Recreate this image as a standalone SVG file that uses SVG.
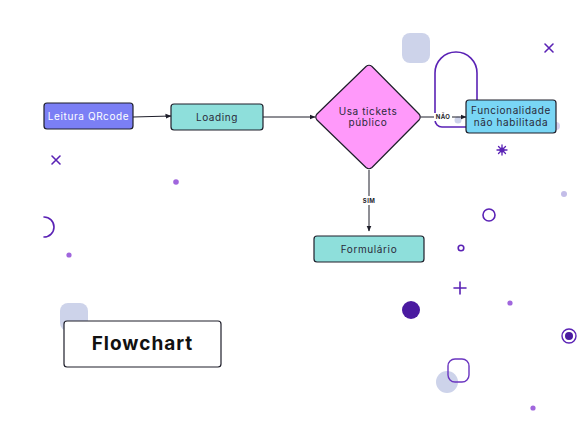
<svg xmlns="http://www.w3.org/2000/svg" width="577" height="433" viewBox="0 0 577 433">
<defs>
<style>
.txt{font-family:"Inter","Liberation Sans",sans-serif;font-size:10px;fill:#2a2a3a;letter-spacing:0.6px;text-anchor:middle}
.node{stroke:#1e1e2a;stroke-width:1.2}
.conn{stroke:#1e1e2a;stroke-width:1;fill:none}
.lbl{font-family:"Inter","Liberation Sans",sans-serif;font-size:6px;font-weight:700;fill:#1e1e2a;text-anchor:middle;letter-spacing:0.4px}
.deco{stroke:#5a22b5;stroke-width:1.6;fill:none;stroke-linecap:round}
.dot{fill:#a066dd}
.lav{fill:#cdd3ea}
</style>
<marker id="ah" viewBox="0 0 6 6" refX="5.5" refY="3" markerWidth="6" markerHeight="6" orient="auto">
<path d="M0,0.5 L6,3 L0,5.5 z" fill="#1e1e2a"/>
</marker>
</defs>
<rect width="577" height="433" fill="#ffffff"/>
<g id="decorations">
<rect class="lav" x="402" y="33" width="28" height="30" rx="8"/>
<rect class="lav" x="60" y="303" width="28" height="28" rx="8"/>
<circle class="lav" cx="447" cy="382" r="11"/>
<circle cx="458" cy="120" r="3.5" fill="#cdd3ea"/>
<circle cx="556" cy="126" r="4" fill="#d8d3f0"/>
<path class="deco" d="M435,120 V73 A21,21 0 0 1 477,73 V110"/>
<path class="deco" d="M435,120 A7,7 0 0 0 442,127 H466"/>
<path class="deco" d="M545,44 L553,52 M553,44 L545,52"/>
<path class="deco" d="M52,156 L60,164 M60,156 L52,164"/>
<path class="deco" d="M44,217 A10,10 0 0 1 44,237"/>
<circle class="dot" cx="176" cy="182" r="2.8"/>
<circle class="dot" cx="69" cy="255" r="2.6"/>
<g stroke="#5a22b5" stroke-width="1.3" stroke-linecap="round">
<path d="M502,145 V155 M497,150 H507 M498.5,146.5 L505.5,153.5 M505.5,146.5 L498.5,153.5"/>
</g>
<circle cx="502" cy="150" r="2.5" fill="#5a22b5"/>
<circle cx="564" cy="194" r="3" fill="#c3bde8"/>
<circle class="deco" cx="489" cy="215" r="6"/>
<circle class="deco" cx="461" cy="248" r="2.8" stroke-width="1.4"/>
<path class="deco" d="M460,282 V294 M454,288 H466"/>
<circle cx="411" cy="310" r="9" fill="#4a1aa0"/>
<circle class="dot" cx="510" cy="303" r="2.6"/>
<circle cx="569" cy="336" r="7" fill="none" stroke="#5a22b5" stroke-width="1.4"/>
<circle cx="569" cy="336" r="4" fill="#4a1aa0"/>
<rect x="448" y="359" width="21" height="23" rx="7" fill="none" stroke="#6a35c0" stroke-width="1.4"/>
<circle class="dot" cx="533" cy="408" r="2.6"/>
</g>
<g id="connectors">
<path class="conn" d="M133,117 L171,116" marker-end="url(#ah)"/>
<path class="conn" d="M263,117 L315,117" marker-end="url(#ah)"/>
<path class="conn" d="M421,117 L466,117" marker-end="url(#ah)"/>
<rect x="434" y="113" width="18" height="8" fill="#ffffff"/>
<text class="lbl" x="443" y="119">NÃO</text>
<path class="conn" d="M369,170 L369,231" marker-end="url(#ah)"/>
<rect x="360" y="196" width="18" height="9" fill="#ffffff"/>
<text class="lbl" x="369" y="202.5">SIM</text>
</g>
<g id="node-leitura">
<rect class="node" x="44" y="103" width="89" height="26" rx="3" fill="#7b7ff5"/>
<text class="txt" x="88.5" y="119.5" style="fill:#ffffff">Leitura QRcode</text>
</g>
<g id="node-loading">
<rect class="node" x="171" y="104" width="92" height="26" rx="3" fill="#8edfdb"/>
<text class="txt" x="217" y="120.5">Loading</text>
</g>
<g id="node-decision">
<path class="node" d="M366,66.5 Q369,64 372,66.5 L419,114 Q421.5,117 419,120 L372,167.5 Q369,170 366,167.5 L317,120 Q314.5,117 317,114 Z" fill="#ff99fa"/>
<text class="txt" x="368" y="115">Usa tickets</text>
<text class="txt" x="368" y="126">público</text>
</g>
<g id="node-funcionalidade">
<rect class="node" x="466" y="100" width="90" height="33" rx="3" fill="#79d6f5"/>
<text class="txt" x="511" y="114">Funcionalidade</text>
<text class="txt" x="511" y="125.5">não habilitada</text>
</g>
<g id="node-formulario">
<rect class="node" x="314" y="236" width="110" height="26" rx="3" fill="#8edfdb"/>
<text class="txt" x="369" y="252.5">Formulário</text>
</g>
<g id="node-flowchart">
<rect class="node" x="64" y="321" width="157" height="46" rx="3" fill="#ffffff"/>
<text x="142.5" y="350" style="font-family:'Inter','Liberation Sans',sans-serif;font-size:19px;font-weight:700;fill:#111;text-anchor:middle;letter-spacing:1px">Flowchart</text>
</g>
</svg>
